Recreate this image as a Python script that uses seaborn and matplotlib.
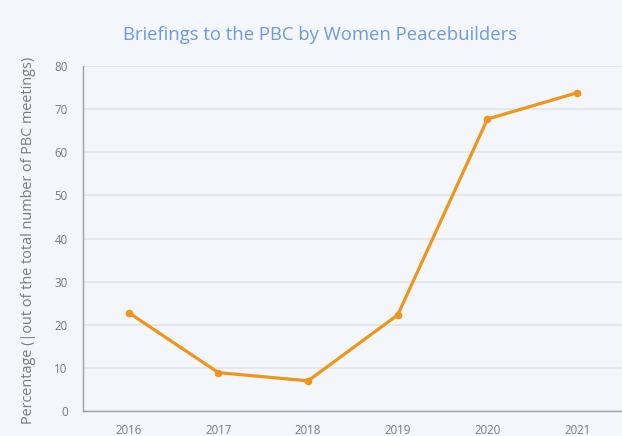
import matplotlib
matplotlib.use('Agg')
import matplotlib.pyplot as plt
import seaborn as sns
import pandas as pd

# Data
years = [2016, 2017, 2018, 2019, 2020, 2021]
percentages = [22.8, 8.9, 7.0, 22.3, 67.7, 73.8]

bg_color = '#f3f6fb'
line_color = '#f0951c'
text_color = '#7a7a7a'
title_color = '#6f9bd8'

sns.set_theme(style='white')
plt.rcParams['font.family'] = ['Open Sans', 'DejaVu Sans']

df = pd.DataFrame({'year': years, 'pct': percentages})

fig = plt.figure(figsize=(6.22, 4.36), dpi=100, facecolor=bg_color)
ax = fig.add_axes([0.1334, 0.0573, 0.8666, 0.7913])
ax.set_facecolor(bg_color)

sns.lineplot(data=df, x='year', y='pct', ax=ax, color=line_color,
             linewidth=2.3, marker='o', markersize=5.5,
             markeredgewidth=0, zorder=3)

ax.set_xlim(2015.49, 2021.5)
ax.set_ylim(0, 80)
ax.set_xticks(years)
ax.set_yticks(range(0, 81, 10))

ax.yaxis.grid(True, color='#e2e5ea', linewidth=1.2)
ax.xaxis.grid(False)

for side in ['top', 'right']:
    ax.spines[side].set_visible(False)
for side in ['left', 'bottom']:
    ax.spines[side].set_color('#a0a0a0')
    ax.spines[side].set_linewidth(1.0)

ax.tick_params(axis='both', length=0, labelsize=8.3, labelcolor=text_color)
ax.tick_params(axis='x', pad=9)
ax.tick_params(axis='y', pad=11)

ax.set_xlabel('')
ax.set_ylabel('Percentage (|out of the total number of PBC meetings)',
              fontsize=10.4, color=text_color)
ax.yaxis.set_label_coords(-0.087, 0.493)

fig.text(0.5145, 0.92, 'Briefings to the PBC by Women Peacebuilders',
         ha='center', va='center', fontsize=13.3, color=title_color)

fig.savefig('out.png', dpi=100, facecolor=bg_color)
